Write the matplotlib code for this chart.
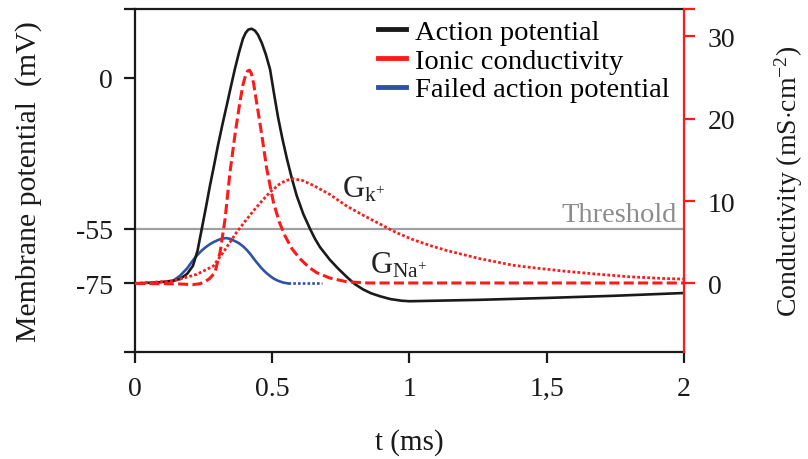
import matplotlib
matplotlib.use("Agg")
import matplotlib.pyplot as plt
from matplotlib.lines import Line2D

plt.rcParams['font.family'] = ['Liberation Serif', 'DejaVu Serif']
plt.rcParams['mathtext.fontset'] = 'custom'
plt.rcParams['mathtext.rm'] = 'Liberation Serif'
plt.rcParams['mathtext.it'] = 'Liberation Serif:italic'

# action potential (t in ms, membrane potential in mV)
ap_t = [0.0, 0.09, 0.14, 0.164, 0.19, 0.211, 0.228, 0.243, 0.258, 0.273, 0.288, 0.302,
        0.318, 0.334, 0.349, 0.364, 0.379, 0.393, 0.403, 0.413, 0.425, 0.437, 0.448,
        0.462, 0.477, 0.492, 0.506, 0.521, 0.537, 0.553, 0.571, 0.589, 0.613, 0.638,
        0.656, 0.674, 0.71, 0.74, 0.771, 0.80, 0.831, 0.86, 0.893, 0.93, 0.97, 1.0,
        1.25, 1.5, 1.75, 2.0]
ap_v = [-75.0, -74.6, -74.0, -73.4, -71.5, -68.6, -63.0, -55.2, -47.5, -39.4, -32.0, -24.8,
        -17.3, -10.2, -3.4, 3.2, 9.2, 14.1, 16.3, 17.5, 17.8, 17.1, 15.6,
        12.6, 8.3, 3.0, -5.6, -14.4, -22.3, -29.4, -36.6, -43.0, -49.7, -55.2,
        -58.8, -61.8, -66.4, -69.6, -72.6, -75.2, -77.2, -78.6, -79.7, -80.7, -81.3, -81.5,
        -81.0, -80.3, -79.5, -78.5]

# failed action potential
fail_t = [0.14, 0.164, 0.19, 0.208, 0.225, 0.24, 0.255, 0.27, 0.285, 0.298, 0.31,
          0.322, 0.334, 0.347, 0.36, 0.378, 0.395, 0.408, 0.42, 0.432, 0.443, 0.457,
          0.47, 0.482, 0.492, 0.506, 0.52, 0.54, 0.558]
fail_v = [-74.0, -72.2, -69.5, -67.0, -64.9, -63.3, -62.0, -60.9, -60.0, -59.4, -58.9,
          -58.6, -58.5, -58.8, -59.4, -60.3, -61.6, -62.9, -64.3, -65.9, -67.3, -69.0,
          -70.4, -71.5, -72.3, -73.3, -74.0, -74.7, -75.0]
fail_tail_t = [0.558, 0.68]
fail_tail_v = [-75.0, -75.0]

# conductivities (mS/cm2)
gna_t = [0.0, 0.15, 0.211, 0.235, 0.255, 0.272, 0.291, 0.31, 0.328, 0.346, 0.364, 0.382,
         0.393, 0.403, 0.41, 0.417, 0.424, 0.432, 0.443, 0.462, 0.48, 0.504, 0.525,
         0.546, 0.572, 0.601, 0.632, 0.662, 0.71, 0.771, 0.85, 2.0]
gna_c = [0.0, -0.05, -0.15, -0.05, 0.2, 0.6, 1.3, 3.8, 7.8, 13.5, 18.0, 22.0,
         24.1, 25.3, 25.8, 25.9, 25.5, 24.3, 22.0, 18.0, 13.9, 9.9, 7.5,
         5.8, 4.2, 3.0, 2.0, 1.3, 0.65, 0.2, 0.05, 0.05]

gk_t = [0.0, 0.14, 0.225, 0.285, 0.322, 0.37, 0.40, 0.431, 0.462, 0.492, 0.528, 0.55,
        0.577, 0.61, 0.65, 0.71, 0.771, 0.83, 0.893, 0.95, 1.014, 1.075, 1.135, 1.257,
        1.378, 1.439, 1.56, 1.682, 1.803, 1.925, 2.0]
gk_c = [0.0, 0.3, 1.1, 2.1, 3.8, 6.2, 7.5, 8.8, 10.0, 11.1, 12.1, 12.5,
        12.7, 12.5, 11.9, 10.8, 9.4, 8.3, 7.2, 6.2, 5.3, 4.6, 4.0, 3.0,
        2.2, 1.95, 1.5, 1.13, 0.8, 0.6, 0.52]

threshold = -55
v_ticks = [-100, -75, -55, 0, 25]
v_labels = ['', '-75', '-55', '0', '']
c_ticks = [0, 10, 20, 30, 100 / 3]
c_labels = ['0', '10', '20', '30', '']
t_ticks = [0, 0.5, 1, 1.5, 2]
t_labels = ['0', '0.5', '1', '1,5', '2']

red = '#ff1a1a'
blue = '#2f52a6'

fig = plt.figure(figsize=(8.08, 4.6), dpi=100)
ax = fig.add_axes([0.1671, 0.2326, 0.6794, 0.7457])
ax2 = ax.twinx()

ax.axhline(threshold, color='#a0a0a0', lw=1.6, zorder=1)
ax.text(1.975, -52.3, 'Threshold', color='#8c8c8c', fontsize=20.5, ha='right', va='baseline')

ax.plot(ap_t, ap_v, color='#1a1a1a', lw=1.9, zorder=4)
ax.plot(fail_t, fail_v, color=blue, lw=1.9, zorder=3)
ax.plot(fail_tail_t, fail_tail_v, color=blue, lw=1.9, linestyle=(0, (1, 0.8)), zorder=3)

ax2.plot(gna_t, gna_c, color=red, lw=2.2, linestyle=(0, (3.3, 1.4)))
ax2.plot(gk_t, gk_c, color=red, lw=2.0, linestyle=(0, (1, 0.8)))

ax.text(0.754, -43.2, r'$\mathrm{G}_{\mathrm{k}^{+}}$', fontsize=22, color='#222222')
ax.text(0.856, -70.9, r'$\mathrm{G}_{\mathrm{Na}^{+}}$', fontsize=22, color='#222222')

ax.set_xlim(0, 2)
ax.set_ylim(-100, 25)
ax2.set_ylim(-25 / 3, 100 / 3)

ax.set_xticks(t_ticks)
ax.set_xticklabels(t_labels)
ax.set_yticks(v_ticks)
ax.set_yticklabels(v_labels)
ax2.set_yticks(c_ticks)
ax2.set_yticklabels(c_labels)

ax.tick_params(axis='both', direction='out', length=8, width=1.6, labelsize=20, colors='#1a1a1a')
ax.tick_params(axis='x', pad=9)
ax.tick_params(axis='y', pad=8)
ax2.tick_params(axis='y', direction='out', length=8, width=1.6, labelsize=20, color=red,
                labelcolor='#1a1a1a', pad=9)

for s in ['left', 'bottom', 'top']:
    ax.spines[s].set_linewidth(1.6)
    ax.spines[s].set_color('#1a1a1a')
for s in ['left', 'bottom', 'top']:
    ax2.spines[s].set_visible(False)
ax.spines['right'].set_visible(False)
ax2.spines['right'].set_color(red)
ax2.spines['right'].set_linewidth(1.6)

ax.set_xlabel('t (ms)', fontsize=21, labelpad=20, color='#1a1a1a')
ax.set_ylabel('Membrane potential  (mV)', fontsize=21.5, labelpad=24, color='#1a1a1a')
ax2.set_ylabel(r'Conductivity (mS$\cdot$cm$^{-2}$)', fontsize=20, labelpad=27, color='#1a1a1a')

handles = [Line2D([], [], color='#1a1a1a', lw=3.5),
           Line2D([], [], color=red, lw=3.5),
           Line2D([], [], color=blue, lw=3.5)]
names = ['Action potential', 'Ionic conductivity', 'Failed action potential']
ax2.legend(handles, names, loc='upper left', bbox_to_anchor=(378 / 808, 1 - 20 / 460),
           bbox_transform=fig.transFigure, frameon=False, fontsize=20.5, borderpad=0,
           borderaxespad=0, handlelength=1.0, handletextpad=0.3, labelspacing=0.1)

fig.savefig('out.png', dpi=100)
